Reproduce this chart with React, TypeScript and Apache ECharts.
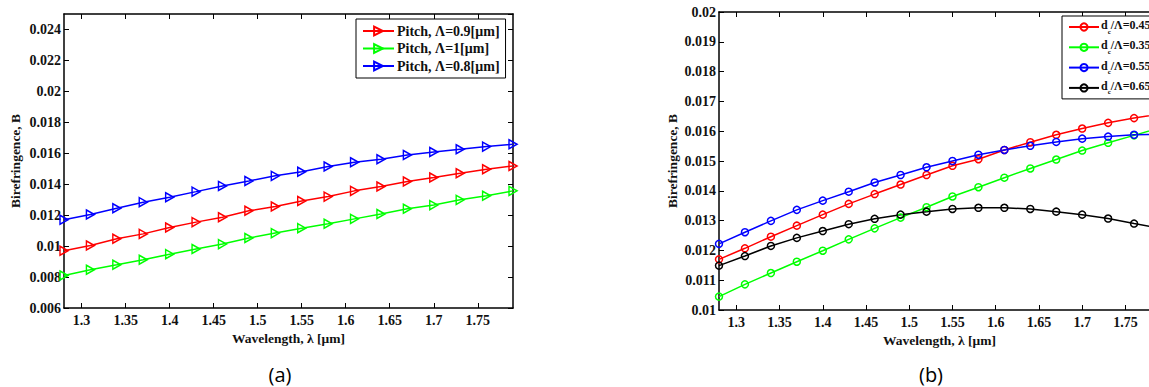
import React, { useEffect, useRef } from "react";
import * as echarts from "echarts";

// shared x values (wavelength, µm) and tick labels
const wavelengths = [1.28, 1.31, 1.34, 1.37, 1.4, 1.43, 1.46, 1.49, 1.52, 1.55, 1.58, 1.61, 1.64, 1.67, 1.7, 1.73, 1.76, 1.79];
const xTickValues = [1.3, 1.35, 1.4, 1.45, 1.5, 1.55, 1.6, 1.65, 1.7, 1.75];

// (a) pitch variation
const pitchNames = ["Pitch, Λ=0.9[μm]", "Pitch, Λ=1[μm]", "Pitch, Λ=0.8[μm]"];
const pitch09 = [0.0097, 0.01004, 0.01047, 0.01079, 0.0112, 0.01155, 0.01187, 0.01228, 0.01256, 0.01292, 0.0132, 0.01357, 0.01385, 0.01417, 0.01443, 0.01471, 0.01497, 0.01518];
const pitch10 = [0.0081, 0.00847, 0.00879, 0.00912, 0.00948, 0.00981, 0.01013, 0.01052, 0.01084, 0.01116, 0.01144, 0.01176, 0.01208, 0.01241, 0.01265, 0.01299, 0.01325, 0.01357];
const pitch08 = [0.0117, 0.01204, 0.01245, 0.01284, 0.01316, 0.01352, 0.01389, 0.01421, 0.01454, 0.01481, 0.01514, 0.01542, 0.01561, 0.01589, 0.01608, 0.01626, 0.01643, 0.01658];

// (b) dc/Λ variation
const ratioNames = ["dc/Λ=0.45", "dc/Λ=0.35", "dc/Λ=0.55", "dc/Λ=0.65"];
const dc045 = [0.0117, 0.01207, 0.01246, 0.01283, 0.0132, 0.01356, 0.01389, 0.01421, 0.01453, 0.01484, 0.01506, 0.01537, 0.01563, 0.01588, 0.01609, 0.01628, 0.01644, 0.01658];
const dc035 = [0.01045, 0.01086, 0.01124, 0.01162, 0.01199, 0.01237, 0.01274, 0.0131, 0.01345, 0.01381, 0.01412, 0.01444, 0.01475, 0.01505, 0.01535, 0.01561, 0.01586, 0.01612];
const dc055 = [0.01222, 0.01261, 0.01299, 0.01336, 0.01367, 0.01397, 0.01428, 0.01453, 0.01479, 0.015, 0.01521, 0.01537, 0.01551, 0.01564, 0.01575, 0.01582, 0.01588, 0.0159];
const dc065 = [0.01149, 0.01181, 0.01215, 0.01242, 0.01265, 0.01288, 0.01306, 0.0132, 0.0133, 0.01339, 0.01343, 0.01343, 0.01339, 0.0133, 0.0132, 0.01307, 0.0129, 0.01275];

const SERIF = "'Liberation Serif', 'Times New Roman', serif";
const labelStyle = { fontFamily: SERIF, fontWeight: "bold" as const, fontSize: 14, color: "#111" };
const titleStyle = { fontFamily: SERIF, fontWeight: "bold" as const, fontSize: 13.5, color: "#111" };
const TRI = "path://M0,0L10,5L0,10Z";

function pairs(ys: number[]) {
  return wavelengths.map((x, i) => [x, ys[i]]);
}

function xAxes(gridIndex: number) {
  const common = {
    type: "value" as const,
    gridIndex,
    min: 1.28,
    max: 1.79,
    splitLine: { show: false },
    axisLine: { show: true, onZero: false, lineStyle: { color: "#000", width: 1.5 } },
    axisTick: { show: true, inside: true, length: 5, customValues: xTickValues, lineStyle: { color: "#000", width: 1 } },
  };
  return [
    {
      ...common,
      position: "bottom",
      axisLabel: { show: true, customValues: xTickValues, margin: 5, ...labelStyle },
      name: "Wavelength, λ [μm]",
      nameLocation: "middle",
      nameGap: 20,
      nameTextStyle: titleStyle,
    },
    { ...common, position: "top", axisLabel: { show: false } },
  ];
}

function yAxes(gridIndex: number, min: number, max: number, interval: number, nameGap: number, showMax: boolean) {
  const common = {
    type: "value" as const,
    gridIndex,
    min,
    max,
    interval,
    splitLine: { show: false },
    axisLine: { show: true, onZero: false, lineStyle: { color: "#000", width: 1.5 } },
    axisTick: { show: true, inside: true, length: 5, lineStyle: { color: "#000", width: 1 } },
  };
  return [
    {
      ...common,
      position: "left",
      axisLabel: { show: true, margin: 3, showMaxLabel: showMax, ...labelStyle },
      name: "Birefringence, B",
      nameLocation: "middle",
      nameGap,
      nameTextStyle: titleStyle,
    },
    { ...common, position: "right", axisLabel: { show: false } },
  ];
}

function lineSeries(name: string, ys: number[], color: string, grid: number, tri: boolean) {
  return {
    type: "line" as const,
    name,
    xAxisIndex: grid * 2,
    yAxisIndex: grid * 2,
    data: pairs(ys),
    symbol: tri ? TRI : "circle",
    symbolSize: tri ? [8, 9] : 7,
    showAllSymbol: true,
    lineStyle: { color, width: 1.5 },
    itemStyle: { color: "rgba(255,255,255,0)", borderColor: color, borderWidth: 1.5 },
    emphasis: { disabled: true },
    z: 3,
  };
}

export default function App() {
  const ref = useRef<HTMLDivElement>(null);
  useEffect(() => {
    if (!ref.current) return;
    const chart = echarts.init(ref.current, undefined, { renderer: "svg" });
    const option: any = {
      animation: false,
      backgroundColor: "#fff",
      grid: [
        { left: 64, top: 14, width: 449, height: 294, outerBoundsMode: "none" },
        { left: 719, top: 12, width: 441, height: 298, outerBoundsMode: "none" },
      ],
      xAxis: [...xAxes(0), ...xAxes(1)],
      yAxis: [...yAxes(0, 0.006, 0.025, 0.002, 42, false), ...yAxes(1, 0.01, 0.02, 0.001, 40, true)],
      legend: [
        {
          data: pitchNames,
          orient: "vertical",
          left: 356,
          top: 19,
          padding: [5, 6, 5, 6],
          itemGap: 3.5,
          itemWidth: 31,
          itemHeight: 11,
          borderColor: "#000",
          borderWidth: 1,
          backgroundColor: "#fff",
          selectedMode: false,
          textStyle: { fontFamily: SERIF, fontWeight: "bold", fontSize: 14, color: "#111", padding: [0, 0, 0, -2] },
        },
        {
          data: ratioNames,
          orient: "vertical",
          left: 1062,
          top: 16,
          padding: [3, 6, 3, 6],
          itemGap: 4.3,
          itemWidth: 30,
          itemHeight: 9,
          borderColor: "#000",
          borderWidth: 1,
          backgroundColor: "#fff",
          selectedMode: false,
          formatter: (name: string) => `{n|d}{s|c}{n|/Λ=${name.split("=")[1]}}`,
          textStyle: {
            fontFamily: SERIF,
            fontWeight: "bold",
            fontSize: 12,
            color: "#111",
            padding: [0, 0, 0, -3],
            rich: {
              n: { fontFamily: SERIF, fontWeight: "bold", fontSize: 12, color: "#111", lineHeight: 16, verticalAlign: "top" },
              s: { fontFamily: SERIF, fontWeight: "bold", fontSize: 7, color: "#111", lineHeight: 8, verticalAlign: "bottom" },
            },
          },
        },
      ],
      series: [
        lineSeries(pitchNames[0], pitch09, "#ff0000", 0, true),
        lineSeries(pitchNames[1], pitch10, "#00ff00", 0, true),
        lineSeries(pitchNames[2], pitch08, "#0000ff", 0, true),
        lineSeries(ratioNames[0], dc045, "#ff0000", 1, false),
        lineSeries(ratioNames[1], dc035, "#00ff00", 1, false),
        lineSeries(ratioNames[2], dc055, "#0000ff", 1, false),
        lineSeries(ratioNames[3], dc065, "#000000", 1, false),
      ],
      graphic: [
        {
          type: "text",
          x: 280,
          y: 374,
          style: { text: "(a)", fontFamily: "'Open Sans', 'Noto Sans', sans-serif", fontSize: 20, fill: "#000", textAlign: "center", textVerticalAlign: "middle" },
        },
        {
          type: "text",
          x: 931,
          y: 374,
          style: { text: "(b)", fontFamily: "'Open Sans', 'Noto Sans', sans-serif", fontSize: 20, fill: "#000", textAlign: "center", textVerticalAlign: "middle" },
        },
      ],
    };
    chart.setOption(option);
    return () => chart.dispose();
  }, []);
  return (
    <div
      ref={ref}
      style={{ position: "fixed", left: 0, top: 0, width: 1149, height: 387, overflow: "hidden" }}
    />
  );
}
